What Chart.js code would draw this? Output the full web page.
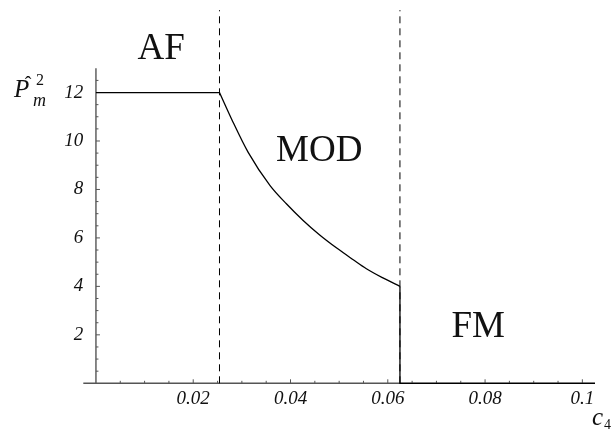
<!DOCTYPE html>
<html>
<head>
<meta charset="utf-8">
<title>Phase diagram</title>
<script src="https://cdn.jsdelivr.net/npm/chart.js@4.4.1/dist/chart.umd.min.js"></script>
<style>
  html, body { margin: 0; padding: 0; background: #fff; }
  .wrap { position: relative; width: 611px; height: 432px; }
</style>
</head>
<body>
<div class="wrap"><canvas id="phase"></canvas></div>
<script>
// --- data ---
const afX = [0, 0.0254];
const afY = [12, 12];
const modX = [0.0254, 0.0279, 0.0313, 0.0358, 0.0392, 0.0426, 0.0460, 0.0495, 0.0529, 0.0556, 0.0591, 0.0625];
const modY = [12, 10.9, 9.53, 8.16, 7.40, 6.72, 6.12, 5.58, 5.10, 4.73, 4.34, 4.0];
const fmX = [0.0625, 0.0625, 0.1026];
const fmY = [4, 0, 0];
const boundaryX = [0.0254, 0.0625];
const boundaryY = [0, 15.4];
const xTicks = [0.02, 0.04, 0.06, 0.08, 0.1];
const xTickLabels = ['0.02', '0.04', '0.06', '0.08', '0.1'];
const yTicks = [2, 4, 6, 8, 10, 12];
const yTickLabels = ['2', '4', '6', '8', '10', '12'];
const regionNames = ['AF', 'MOD', 'FM'];

// where the region names sit (data coords)
const regionPos = [
  { x: 0.0134, y: 13.39 },
  { x: 0.0459, y: 9.17 },
  { x: 0.0786, y: 1.91 }
];

const pts = (xs, ys) => xs.map((x, i) => ({ x: x, y: ys[i] }));

const boundarySets = boundaryX.map(bx => ({
  data: pts([bx, bx], boundaryY),
  borderColor: '#000',
  borderWidth: 1,
  borderDash: [7, 5],
  pointRadius: 0,
  clip: false
}));

const serif = '"Liberation Serif", "DejaVu Serif", serif';

// axes through the origin with inward ticks, plus texts
const axesPlugin = {
  id: 'axesPlugin',
  beforeDatasetsDraw(chart) {
    const { ctx, scales: { x, y } } = chart;
    const x0 = x.getPixelForValue(0);
    const y0 = y.getPixelForValue(0);
    ctx.save();
    ctx.strokeStyle = '#555';
    ctx.lineWidth = 1.4;
    ctx.beginPath();
    ctx.moveTo(x.left, y0);
    ctx.lineTo(x.right, y0);
    ctx.moveTo(x0, y0);
    ctx.lineTo(x0, y.getPixelForValue(13));
    ctx.stroke();

    ctx.lineWidth = 1;
    ctx.beginPath();
    for (let i = 1; i <= 20; i++) {
      const px = x.getPixelForValue(i * 0.005);
      const len = i % 4 === 0 ? 4 : 2.5;
      ctx.moveTo(px, y0);
      ctx.lineTo(px, y0 - len);
    }
    for (let i = 1; i <= 25; i++) {
      const py = y.getPixelForValue(i * 0.5);
      const len = i % 4 === 0 ? 4 : 2.5;
      ctx.moveTo(x0, py);
      ctx.lineTo(x0 + len, py);
    }
    ctx.stroke();
    ctx.restore();
  },
  afterDraw(chart) {
    const { ctx, scales: { x, y } } = chart;
    ctx.save();
    ctx.fillStyle = '#111';
    ctx.textBaseline = 'alphabetic';

    // region names
    ctx.font = '37px ' + serif;
    ctx.textAlign = 'center';
    regionNames.forEach((name, i) => {
      ctx.fillText(name, x.getPixelForValue(regionPos[i].x), y.getPixelForValue(regionPos[i].y));
    });

    // y title: P hat, sub m, sup 2
    ctx.textAlign = 'left';
    ctx.font = 'italic 25px ' + serif;
    ctx.fillText('P', 14, 97);
    ctx.textAlign = 'center';
    ctx.font = '20px ' + serif;
    ctx.fillText('\u02C6', 28, 91);
    ctx.textAlign = 'left';
    ctx.font = '16px ' + serif;
    ctx.fillText('2', 36, 85);
    ctx.font = 'italic 18px ' + serif;
    ctx.fillText('m', 33, 106);

    // x title: c sub 4
    ctx.font = 'italic 25px ' + serif;
    ctx.fillText('c', 592, 425);
    ctx.font = '14px ' + serif;
    ctx.fillText('4', 604, 429);
    ctx.restore();
  }
};

new Chart(document.getElementById('phase'), {
  type: 'line',
  data: {
    datasets: [
      ...boundarySets,
      { data: pts(afX, afY), borderColor: '#000', borderWidth: 1.3, pointRadius: 0, tension: 0 },
      { data: pts(modX, modY), borderColor: '#000', borderWidth: 1.3, pointRadius: 0, cubicInterpolationMode: 'monotone' },
      { data: pts(fmX, fmY), borderColor: '#000', borderWidth: 1.3, pointRadius: 0, tension: 0, clip: false }
    ]
  },
  options: {
    responsive: true,
    maintainAspectRatio: false,
    animation: false,
    layout: { padding: { top: 68.3, right: 16, left: 0, bottom: 0 } },
    plugins: { legend: { display: false }, tooltip: { enabled: false } },
    scales: {
      x: {
        type: 'linear',
        min: -0.0026,
        max: 0.1026,
        grid: { display: false, drawTicks: false },
        border: { display: false },
        afterBuildTicks: s => { s.ticks = xTicks.map(v => ({ value: v })); },
        afterFit: s => { s.height = 48.7; },
        ticks: {
          autoSkip: false,
          maxRotation: 0,
          padding: 4,
          color: '#111',
          font: { family: serif, style: 'italic', size: 19 },
          callback: (v, i) => xTickLabels[i]
        }
      },
      y: {
        type: 'linear',
        min: 0,
        max: 13,
        grid: { display: false, drawTicks: false },
        border: { display: false },
        afterBuildTicks: s => { s.ticks = yTicks.map(v => ({ value: v })); },
        afterFit: s => { s.width = 83.3; },
        ticks: {
          autoSkip: false,
          padding: 0,
          color: '#111',
          font: { family: serif, style: 'italic', size: 19 },
          callback: (v, i) => yTickLabels[i]
        }
      }
    }
  },
  plugins: [axesPlugin]
});
</script>
</body>
</html>
